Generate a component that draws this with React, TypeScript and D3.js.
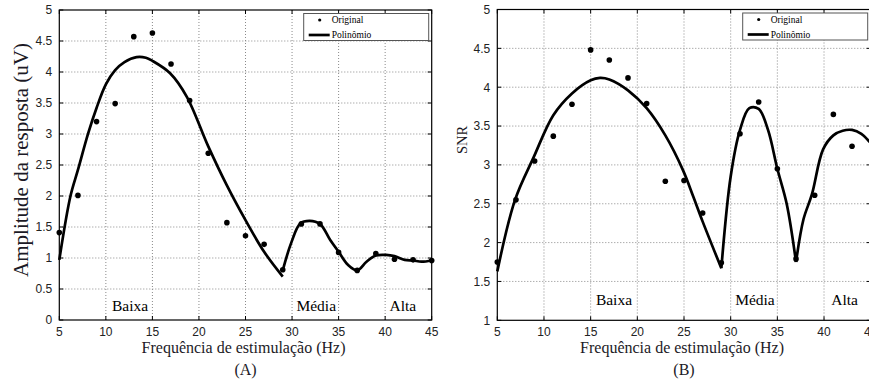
import React from 'react'
import { scaleLinear, line, curveCatmullRom } from 'd3'

// stimulation frequencies (Hz)
const freqs = [5, 7, 9, 11, 13, 15, 17, 19, 21, 23, 25, 27, 29, 31, 33, 35, 37, 39, 41, 43, 45]

// (A) response amplitude, measured points
const ampOriginal = [1.41, 2.01, 3.2, 3.49, 4.57, 4.63, 4.13, 3.54, 2.69, 1.57, 1.36, 1.22, 0.81, 1.55, 1.55, 1.09, 0.8, 1.07, 0.98, 0.97, 0.96]

// (A) fitted polynomial, per band
const ampLowX = [5, 6.2, 7, 8.1, 9, 10, 11, 12, 13.3, 14.3, 15, 16.9, 18.7, 21, 23, 25, 27, 29]
const ampLowY = [0.97, 2.0, 2.42, 3.01, 3.42, 3.8, 4.03, 4.16, 4.24, 4.23, 4.18, 3.98, 3.6, 2.8, 2.17, 1.61, 1.1, 0.7]
const ampMidX = [29, 29.9, 30.9, 31.9, 33, 34.1, 35, 36, 37, 38, 39, 40.1, 41, 42.1, 43, 43.9, 45]
const ampMidY = [0.8, 1.24, 1.56, 1.6, 1.55, 1.29, 1.1, 0.89, 0.8, 0.94, 1.04, 1.05, 1.03, 0.97, 0.96, 0.94, 0.96]

// (B) SNR, measured points (45 Hz lies outside the picture)
const snrFreqs = [5, 7, 9, 11, 13, 15, 17, 19, 21, 23, 25, 27, 29, 31, 33, 35, 37, 39, 41, 43]
const snrOriginal = [1.75, 2.55, 3.05, 3.37, 3.78, 4.48, 4.35, 4.12, 3.79, 2.79, 2.8, 2.38, 1.74, 3.4, 3.81, 2.95, 1.79, 2.61, 3.65, 3.24]

// (B) fitted polynomial, per band
const snrLowX = [5, 6.9, 8.9, 11, 13, 15, 16, 17, 19, 21, 23, 24.9, 26, 27, 29]
const snrLowY = [1.63, 2.55, 3.1, 3.64, 3.92, 4.09, 4.12, 4.1, 3.96, 3.73, 3.38, 2.93, 2.59, 2.27, 1.67]
const snrMidX = [29, 30, 31, 32, 33, 34, 35, 36, 37]
const snrMidY = [1.67, 2.85, 3.45, 3.73, 3.72, 3.45, 2.95, 2.5, 1.75]
const snrHighX = [37, 37.8, 38.7, 39.9, 41, 42, 43, 44, 45]
const snrHighY = [1.75, 2.3, 2.62, 3.2, 3.38, 3.44, 3.45, 3.4, 3.28]

const xTicks = [5, 10, 15, 20, 25, 30, 35, 40, 45]
const yTicksA = [0, 0.5, 1, 1.5, 2, 2.5, 3, 3.5, 4, 4.5, 5]
const yTicksB = [1, 1.5, 2, 2.5, 3, 3.5, 4, 4.5, 5]

const bands = ['Baixa', 'Média', 'Alta']
const bandXA = [12.6, 32.6, 41.9]
const bandXB = [17.5, 32.6, 42.2]

const sans = "'Liberation Sans', Arial, sans-serif"
const serif = "'Liberation Serif', 'Times New Roman', serif"
const ink = '#1c1a26'

const Panel = ({ left, right, top, bottom, yDomain, yTicks, px, py, curves, bandX, bandY, caption, yLabel, yLabelX, yLabelY, yLabelSize }) => {
  const x = scaleLinear().domain([5, 45]).range([left, right])
  const y = scaleLinear().domain(yDomain).range([bottom, top])
  const path = line().x(d => x(d[0])).y(d => y(d[1])).curve(curveCatmullRom.alpha(0.5))
  const cx = (left + right) / 2
  const legX = right - 128
  return (
    <g>
      {/* grid */}
      {xTicks.slice(1, -1).map(t => (
        <line key={'gx' + t} x1={x(t)} x2={x(t)} y1={top} y2={bottom} stroke="#8a8a8a" strokeWidth={1} strokeDasharray="1,2" />
      ))}
      {yTicks.slice(1, -1).map(t => (
        <line key={'gy' + t} x1={left} x2={right} y1={y(t)} y2={y(t)} stroke="#8a8a8a" strokeWidth={1} strokeDasharray="1,2" />
      ))}
      {/* inward ticks */}
      {xTicks.map(t => (
        <g key={'tx' + t}>
          <line x1={x(t)} x2={x(t)} y1={bottom} y2={bottom - 4} stroke="#000" />
          <line x1={x(t)} x2={x(t)} y1={top} y2={top + 4} stroke="#000" />
          <text x={x(t)} y={bottom + 16} textAnchor="middle" fontFamily={sans} fontSize={12} fill="#222">{t}</text>
        </g>
      ))}
      {yTicks.map(t => (
        <g key={'ty' + t}>
          <line x1={left} x2={left + 4} y1={y(t)} y2={y(t)} stroke="#000" />
          <line x1={right} x2={right - 4} y1={y(t)} y2={y(t)} stroke="#000" />
          <text x={left - 7} y={y(t)} dy="0.36em" textAnchor="end" fontFamily={sans} fontSize={12} fill="#222">{t}</text>
        </g>
      ))}
      <rect x={left} y={top} width={right - left} height={bottom - top} fill="none" stroke="#000" strokeWidth={1.2} />

      {/* band labels */}
      {bands.map((b, i) => (
        <text key={b} x={x(bandX[i])} y={y(bandY)} textAnchor="middle" fontFamily={serif} fontSize={15.5} fill="#000">{b}</text>
      ))}

      {/* polynomial fit */}
      {curves.map((c, i) => (
        <path key={'c' + i} d={path(c[0].map((v, j) => [v, c[1][j]]))} fill="none" stroke="#000" strokeWidth={2.7} strokeLinejoin="round" />
      ))}
      {/* original points */}
      {px.map((v, i) => (
        <circle key={'p' + i} cx={x(v)} cy={y(py[i])} r={2.8} fill="#000" />
      ))}

      {/* legend */}
      <rect x={legX} y={top + 3.5} width={125} height={27} fill="#fff" stroke="#555" strokeWidth={1} />
      <circle cx={legX + 16} cy={top + 10} r={1.6} fill="#000" />
      <text x={legX + 28} y={top + 13} fontFamily={serif} fontSize={9.5} fill="#000">Original</text>
      <line x1={legX + 5} x2={legX + 26} y1={top + 25} y2={top + 25} stroke="#000" strokeWidth={2.7} />
      <text x={legX + 28} y={top + 28} fontFamily={serif} fontSize={9.5} fill="#000">Polinômio</text>

      {/* titles */}
      <text x={cx - 2} y={bottom + 33} textAnchor="middle" fontFamily={serif} fontSize={16} fill={ink}>Frequência de estimulação (Hz)</text>
      <text x={cx} y={bottom + 55} textAnchor="middle" fontFamily={serif} fontSize={16} fill={ink}>{caption}</text>
      <text x={yLabelX} y={yLabelY} textAnchor="middle" fontFamily={serif} fontSize={yLabelSize} fill={ink}
        transform={`rotate(-90, ${yLabelX}, ${yLabelY})`}>{yLabel}</text>
    </g>
  )
}

export default function App() {
  return (
    <svg width={869} height={385} style={{ position: 'absolute', left: 0, top: 0, background: '#fff' }}>
      <rect width={869} height={385} fill="#fff" />
      <Panel left={59.3} right={431.7} top={10} bottom={320} yDomain={[0, 5]} yTicks={yTicksA}
        px={freqs} py={ampOriginal}
        curves={[[ampLowX, ampLowY], [ampMidX, ampMidY]]}
        bandX={bandXA} bandY={0.15} caption="(A)"
        yLabel="Amplitude da resposta (uV)" yLabelX={28} yLabelY={160} yLabelSize={21} />
      <Panel left={497.3} right={870.7} top={9.5} bottom={320.3} yDomain={[1, 5]} yTicks={yTicksB}
        px={snrFreqs} py={snrOriginal}
        curves={[[snrLowX, snrLowY], [snrMidX, snrMidY], [snrHighX, snrHighY]]}
        bandX={bandXB} bandY={1.2} caption="(B)"
        yLabel="SNR" yLabelX={467} yLabelY={140} yLabelSize={14.5} />
    </svg>
  )
}
